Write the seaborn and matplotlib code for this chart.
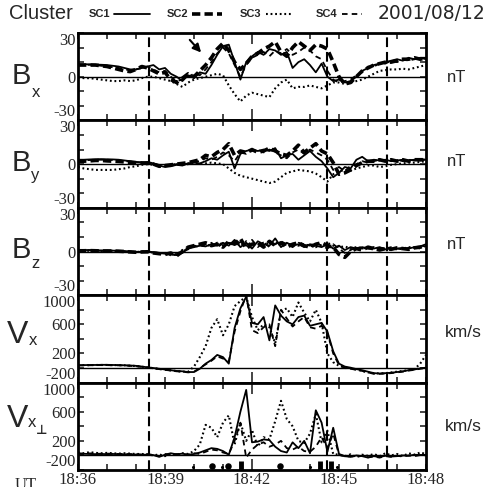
import numpy as np
import matplotlib
matplotlib.use("Agg")
import matplotlib.pyplot as plt
from matplotlib.lines import Line2D
from matplotlib.ticker import FixedLocator, NullFormatter
from matplotlib.transforms import blended_transform_factory
import seaborn as sns

# ---------------- data ----------------
# time in minutes after 18:36 UT
t = np.round(np.arange(0, 12.01, 0.2), 1)

bx_sc1 = [8.5, 8.5, 8.5, 8.3, 8.2, 8, 7.5, 7, 6, 5,
          5, 6, 7, 8, 5, 6, 2, 0, -3, 1,
          -1, 3, 2, 8, 15, 21, 22, 10, -2, 10,
          14, 17, 15, 19, 18, 15, 17, 6, 10, 12,
          8, 3, 9, 0, -3, -2, -4, -3, 0, 4,
          6, 8, 9, 10, 11, 12, 11, 13, 12, 13,
          13]
bx_sc2 = [8, 8, 8, 8, 7.5, 7, 6, 5, 4, 3.5,
          5, 7, 6, 4, 2, 3, -2, -4, -1, 2,
          0, 4, 8, 13, 19, 23, 18, 10, 5, 9,
          14, 16, 19, 21, 24, 17, 14, 20, 24, 21,
          18, 22, 21, 19, 10, 0, -5, -4, 0, 4,
          6, 8, 9, 10, 10, 11, 12, 12, 13, 12,
          13]
bx_sc3 = [-0.5, -1, -1, -1.5, -2, -2.5, -3, -3, -2.5, -3,
          -2.5, -1, 0, 0, -1, -2, -3, -5, -7, -4,
          -2, -1, 0, 1, 2, 1, -6, -12, -17, -13,
          -11, -12, -13, -14, -8, -4, -2, -8, -7, -7,
          -6, -7, -8, -6, -4, -4, -5, -4, -3, -2,
          0, 2, 4, 4.5, 5, 5, 5.5, 5, 6, 7,
          8]
bx_sc4 = [8, 8, 8.2, 8, 7.5, 7, 6.5, 6, 5, 4.5,
          5, 6, 7, 5, 3, 4, 0, -3, -2, 0,
          2, 1, 5, 10, 16, 20, 16, 8, 0, 8,
          13, 15, 17, 14, 18, 16, 19, 15, 17, 20,
          18, 14, 12, 4, -2, -4, -3, -2, 1, 3,
          7, 7, 9, 9, 11, 10, 12, 11, 12, 13,
          12]

by_sc1 = [3, 3, 3.2, 3.3, 3.4, 3.3, 3.2, 3, 2.5, 2,
          1.5, 1.2, 1.5, 0.5, -1, -2, -1.5, -0.5, -1, 0.5,
          1, 0.5, 2, 4, 3, 6, 8.5, -3, 7, 9,
          10, 9, 10, 9, 11, 4, 6, 7, 3, 6,
          9, 5, 2, -3, -9, -6, -2, -3, 3, 5,
          2, 3, 2.5, 3, 2, 2.5, 3, 2.5, 3, 2.5,
          3]
by_sc2 = [2, 2, 2.2, 2.5, 2.5, 2.2, 2, 1.8, 1.5, 1.2,
          1, 0.8, 0.5, 0, -1.5, -1, -0.5, 0, 0.5, 1,
          2, 3, 6, 5, 8, 10, 14, 6, 9, 8,
          10, 8, 9, 11, 9, 7, 6, 9, 13, 8,
          11, 14, 9, 7, 1, -7, -6, -4, -1, 1,
          2, 2, 3, 2, 3, 2, 3, 2, 3, 3,
          3]
by_sc3 = [-2, -3, -3.5, -4, -4, -4, -4, -3.5, -3, -2,
          -1.5, -0.5, 0, -0.5, -1, -1, -0.5, 0, -0.5, 0,
          0.5, 0, 0.5, 1, 0.5, 0, -3, -6, -8, -9,
          -10, -11, -12, -13, -12, -9, -6, -5, -4, -4.5,
          -5, -6.5, -9, -12, -7, -5, -4, -4.5, -3, -2,
          -1, -1, -2, -1.5, -0.5, 0, 0.5, 1, 1, 1.5,
          2]
by_sc4 = [2.5, 2.5, 2.8, 3, 3, 3, 2.8, 2.5, 2, 1.8,
          1.2, 1, 0.8, 0.3, -0.5, -1.5, -1, 0, -0.5, 0.5,
          1.5, 2, 4, 3, 5, 8, 6, 2, 8, 7,
          9, 10, 8, 10, 8, 6, 4, 8, 10, 7,
          10, 8, 6, 3, -4, -2, -5, -1, 0, 2,
          1, 2, 3, 2, 2.5, 3, 2, 3, 2.5, 3,
          3.5]

bz_sc1 = [1, 1, 1, 0.8, 0.7, 0.8, 0.6, 0.5, 0.3, 0,
          -0.3, -0.2, 0, -0.5, -1, -1.5, -2, -2.5, -1, 2,
          3, 4, 3.5, 5, 4, 6, 4, 8, 3, 6,
          2, 7, 5, 4, 9, 3, 6, 4, 5, 3,
          5, 4, 3, 5, 2, 4, 1, 3, 2, 3,
          2, 2, 3, 1.5, 2, 2, 2.5, 2, 3, 3.5,
          5]
bz_sc2 = [0.5, 0.5, 0.6, 0.5, 0.4, 0.3, 0.3, 0.2, 0, -0.3,
          -0.5, -0.3, -0.2, -1, -1.5, -2, -1, -3, 0, 3,
          4, 5, 6, 4, 5, 3, 7, 5, 9, 2,
          5, 6, 3, 7, 4, 6, 3, 5, 6, 4,
          3, 5, 6, 4, 3, -2, -4, 0, 2, 1,
          3, 2, 1, 2, 1.5, 2.5, 2, 1.5, 2.5, 3,
          4]
bz_sc3 = [0.3, 0.5, 0.5, 0.3, 0.2, 0.5, 0.4, 0.3, 0.1, -0.2,
          -0.4, 0, -0.1, -0.8, -1.2, -1, -2.5, -2, 1, 2.5,
          3.5, 4.5, 5, 3.5, 6, 5, 5.5, 6.5, 4, 7,
          4.5, 5, 6, 5.5, 6, 5, 4.5, 5.5, 4, 5,
          4, 3, 4.5, 6, 4, 3, 3.5, 2, 3, 2.5,
          2, 3, 2, 2.5, 2, 1.5, 2, 3, 2.5, 3,
          4.5]
bz_sc4 = [0.8, 0.7, 0.8, 0.6, 0.5, 0.6, 0.5, 0.4, 0.2, -0.1,
          -0.2, -0.4, 0.1, -0.6, -1.4, -1.8, -1.5, -1.8, 0.5, 1.5,
          4, 3, 5, 6, 3, 5.5, 6, 4, 6.5, 4,
          8, 3, 6.5, 3, 5, 7, 5, 3, 6, 5,
          4, 6, 4, 2, 5, 2, -1, 1, 3, 2,
          2.5, 1, 2.5, 2, 3, 2, 1.5, 2.5, 3, 2,
          4]

vx_sc1 = [40, 40, 42, 42, 44, 44, 42, 40, 38, 35,
          30, 20, 10, 0, -10, -20, -30, -40, -45, -55,
          -55, -10, 60, 110, 180, 150, 60, 550, 820, 980,
          620, 600, 700, 380, 860, 720, 640, 600, 700, 720,
          580, 600, 620, 500, 230, 60, 20, 5, -15, -30,
          -50, -70, -75, -70, -65, -55, -45, -30, -20, -5,
          5]
vx_sc3 = [38, 40, 40, 42, 42, 42, 40, 40, 37, 32,
          28, 18, 8, -2, -12, -22, -32, -42, -50, -50,
          20, 150, 300, 550, 670, 450, 600, 850, 920, 980,
          700, 520, 600, 560, 340, 780, 820, 700, 900, 760,
          640, 800, 620, 200, 80, 30, 10, -5, -20, -40,
          -60, -70, -75, -70, -60, -50, -40, -30, -15, 60,
          180]
vx_sc4 = [35, 36, 38, 40, 40, 40, 38, 37, 35, 30,
          25, 15, 5, -5, -15, -25, -35, -45, -50, -60,
          -50, 0, 50, 100, 160, 130, 90, 500, 780, 1000,
          520, 480, 560, 600, 300, 800, 680, 570, 640, 700,
          560, 540, 580, 480, 200, 40, 0, -10, -25, -40,
          -60, -80, -80, -75, -70, -60, -50, -35, -25, -10,
          0]

vxp_sc1 = [20, 22, 20, 18, 20, 18, 20, 18, 15, 15,
           12, 10, 10, 5, -20, 10, 30, 15, 25, 10,
           20, 40, 70, 100, 90, 60, 10, 250, 600, 900,
           180, 190, 220, 210, 120, 60, 40, 180, 100, 200,
           30, 620, 450, 50, 380, 20, -10, -20, 0, -10,
           -30, -10, -20, -5, -15, -10, 0, -5, 10, 5,
           10]
vxp_sc3 = [40, 30, 45, 35, 30, 35, 30, 25, 30, 25,
           20, 20, 15, 0, 15, -10, 20, 10, 30, 20,
           60, 150, 420, 380, 250, 450, 550, 150, 450, 200,
           350, 120, 250, 220, 470, 750, 500, 400, 200, 170,
           300, 570, 180, 340, 20, 10, -10, 15, -20, 10,
           -5, 20, -10, 30, 0, 20, -10, 30, 10, 40,
           20]
vxp_sc4 = [30, 25, 28, 25, 22, 25, 22, 20, 20, 18,
           15, 12, 15, 10, -10, 20, 10, 20, 5, 15,
           30, 20, 50, 80, 70, 40, 20, 200, 450, -30,
           80, 150, 180, 120, 150, 200, 100, 80, 120, 60,
           50, 120, 250, 100, 300, 10, -15, -10, -20, -5,
           -25, -15, -30, -10, -20, -5, -15, 0, -10, 5,
           0]

boundary_times = [2.46, 8.57, 10.64]
event_dots = [4.62, 5.17, 6.97]
event_small_dots = [3.97, 4.97, 8.0, 8.93]
event_bars = [5.62, 8.34, 8.71]
xtick_pos = [0, 3, 6, 9, 12]
xtick_labels = ["18:36", "18:39", "18:42", "18:45", "18:48"]
b_ticks, b_labels = [-30, 0, 30], ["-30", "0", "30"]
v_ticks, v_labels = [-200, 200, 600, 1000], ["-200", "200", "600", "1000"]

# ---------------- style ----------------
sns.set_style("ticks")
plt.rcParams["font.family"] = ["Liberation Sans", "DejaVu Sans"]
plt.rcParams["font.serif"] = ["Liberation Serif", "DejaVu Serif"]
plt.rcParams["lines.scale_dashes"] = False

W, H = 493, 487
fig = plt.figure(figsize=(W / 100, H / 100), dpi=100)
fig.patch.set_facecolor("white")
fx = lambda px: px / W
fy = lambda py: 1 - py / H

gs = fig.add_gridspec(5, 1, left=fx(78), right=fx(426), top=fy(33), bottom=fy(470), hspace=0)
axes = [fig.add_subplot(gs[i]) for i in range(5)]

styles = {
    "SC1": dict(lw=1.3, linestyle="-"),
    "SC2": dict(lw=2.6, linestyle=(0, (6, 3))),
    "SC3": dict(lw=1.5, linestyle=(0, (1.3, 2))),
    "SC4": dict(lw=1.3, linestyle=(0, (4, 3))),
}

panels = [
    {"SC1": bx_sc1, "SC2": bx_sc2, "SC3": bx_sc3, "SC4": bx_sc4},
    {"SC1": by_sc1, "SC2": by_sc2, "SC3": by_sc3, "SC4": by_sc4},
    {"SC1": bz_sc1, "SC2": bz_sc2, "SC3": bz_sc3, "SC4": bz_sc4},
    {"SC1": vx_sc1, "SC3": vx_sc3, "SC4": vx_sc4},
    {"SC1": vxp_sc1, "SC3": vxp_sc3, "SC4": vxp_sc4},
]

for i, (ax, series) in enumerate(zip(axes, panels)):
    for name, vals in series.items():
        sns.lineplot(x=t, y=vals, ax=ax, color="black", legend=False,
                     errorbar=None, sort=False, **styles[name])
    ax.axhline(0, color="black", lw=1.0, zorder=1)
    for bt in boundary_times:
        ax.axvline(bt, color="black", lw=1.5, linestyle=(0, (7, 3.5)), zorder=1)
    ax.set_xlim(0, 12)
    if i < 3:
        ax.set_ylim(-30, 30)
        ticks, labels = b_ticks, b_labels
        ax.yaxis.set_minor_locator(FixedLocator([-20, -10, 10, 20]))
    else:
        ax.set_ylim(-200, 1000)
        ticks, labels = v_ticks, v_labels
        ax.yaxis.set_minor_locator(FixedLocator([0, 400, 800]))
    ax.yaxis.set_major_locator(FixedLocator(ticks))
    ax.yaxis.set_major_formatter(NullFormatter())
    trans = blended_transform_factory(ax.transAxes, ax.transData)
    for k, (v, lab) in enumerate(zip(ticks, labels)):
        va = "bottom" if k == 0 else ("top" if k == len(ticks) - 1 else "center_baseline")
        ax.text(-0.006, v, lab, transform=trans, ha="right", va=va,
                fontsize=12, fontfamily="serif")
    ax.xaxis.set_major_locator(FixedLocator(xtick_pos))
    ax.xaxis.set_minor_locator(FixedLocator([1, 2, 4, 5, 7, 8, 10, 11]))
    if i == 4:
        ax.set_xticklabels(xtick_labels)
    else:
        ax.xaxis.set_major_formatter(NullFormatter())
    ax.tick_params(which="both", direction="in", top=True, right=True,
                   length=4, width=1.2, labelsize=12)
    ax.tick_params(axis="x", pad=1.5, labelfontfamily="serif")
    # the 18:42 tick is drawn longer
    mt = ax.xaxis.get_major_ticks()[2]
    mt.tick1line.set_markersize(8)
    mt.tick2line.set_markersize(8)
    for sp in ax.spines.values():
        sp.set_linewidth(2)
        sp.set_color("black")
    ax.set_xlabel("")
    ax.set_ylabel("")
    ax.set_facecolor("white")

# event markers at the bottom of the last panel
axes[4].scatter(event_dots, [-148] * len(event_dots), s=22, color="black", marker="o",
                linewidths=0, zorder=5)
axes[4].scatter(event_small_dots, [-165] * len(event_small_dots), s=5, color="black",
                marker="o", linewidths=0, zorder=5)
axes[4].vlines(event_bars, -200, -75, color="black", lw=3.5, zorder=5)

# arrow in Bx panel
axes[0].annotate("", xy=(4.31, 15.2), xytext=(3.79, 26.7),
                 arrowprops=dict(arrowstyle="-|>", color="black", lw=1.5, mutation_scale=12),
                 annotation_clip=False)

# ---------------- header / legend ----------------
fig.text(fx(9), fy(19), "Cluster", fontsize=14.5, ha="left", va="baseline")
fig.text(fx(485), fy(19), "2001/08/12", fontsize=13.5, ha="right", va="baseline",
         family=["DejaVu Sans"])
leg = [("SC1", 89, 114, 150), ("SC2", 167, 192, 222), ("SC3", 240, 266, 292), ("SC4", 316, 342, 362)]
for name, tx, l0, l1 in leg:
    fig.text(fx(tx), fy(17), name, fontsize=8, weight="bold", ha="left", va="baseline")
    fig.add_artist(Line2D([fx(l0), fx(l1)], [fy(13.5), fy(13.5)], transform=fig.transFigure,
                          color="black", **styles[name]))

# ---------------- side labels ----------------
def side_label(big, sub, y_base, x_big, x_sub, y_sub, size):
    fig.text(fx(x_big), fy(y_base), big, fontsize=size, ha="left", va="baseline")
    fig.text(fx(x_sub), fy(y_sub), sub, fontsize=12, ha="left", va="baseline")

side_label("B", "x", 84, 12, 32, 97, 21)
side_label("B", "y", 171, 12, 31, 180, 21)
side_label("B", "z", 258, 12, 31, 268, 21)
side_label("V", "x", 343, 7, 29, 345, 23)
side_label("V", "x", 427, 7, 28, 427, 23)
fig.text(fx(36), fy(434), "\u22a5", fontsize=9, weight="bold", ha="left", va="baseline",
         family=["DejaVu Sans"])

for yb in (82, 166, 249):
    fig.text(fx(447), fy(yb), "nT", fontsize=12, ha="left", va="baseline")
for yb in (337, 431):
    fig.text(fx(445), fy(yb), "km/s", fontsize=12.5, ha="left", va="baseline")

fig.text(fx(15), fy(477), "UT", fontsize=12, ha="left", va="top", fontfamily="serif")

fig.savefig("out.png", dpi=100, facecolor="white")
